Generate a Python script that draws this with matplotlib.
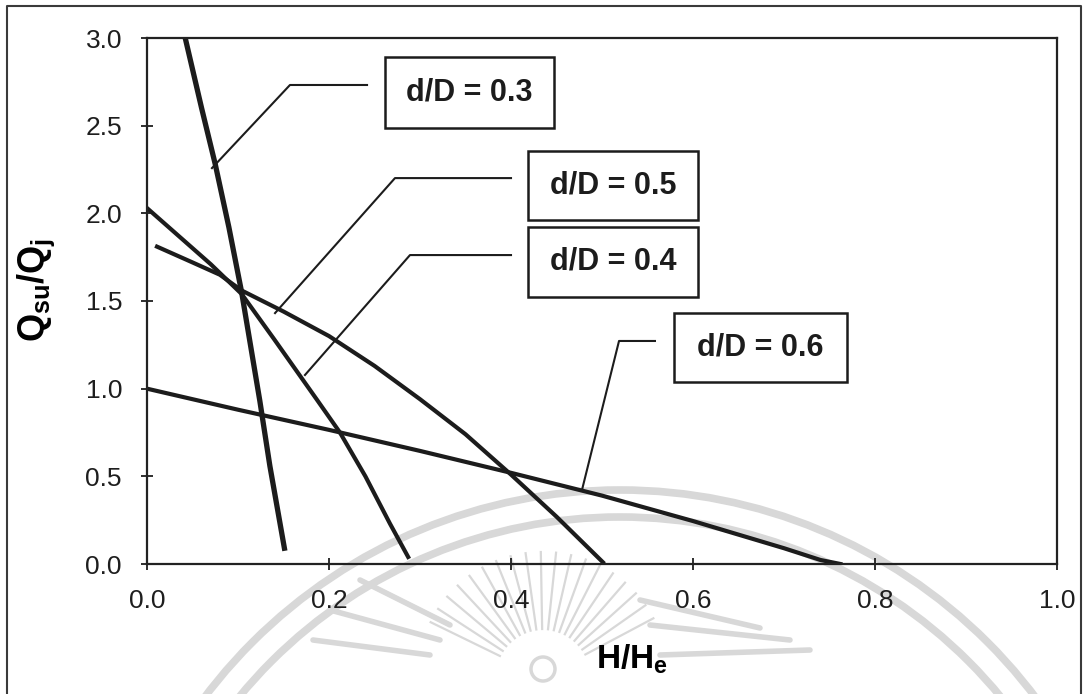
import numpy as np
import matplotlib
matplotlib.use("Agg")
import matplotlib.pyplot as plt
from matplotlib.patches import Rectangle, Circle

plt.rcParams['font.family'] = ['Liberation Sans', 'DejaVu Sans']
plt.rcParams['mathtext.fontset'] = 'custom'
plt.rcParams['mathtext.rm'] = 'Liberation Sans:bold'
plt.rcParams['mathtext.it'] = 'Liberation Sans:bold'
plt.rcParams['mathtext.bf'] = 'Liberation Sans:bold'

# H/He against Qsu/Qj for each d/D ratio
hh_03 = [0.042, 0.060, 0.075, 0.090, 0.104, 0.124, 0.135, 0.151]
q_03 = [3.00, 2.60, 2.28, 1.92, 1.55, 0.93, 0.56, 0.09]

hh_04 = [0.000, 0.035, 0.070, 0.104, 0.140, 0.187, 0.212, 0.240, 0.267, 0.287]
q_04 = [2.03, 1.87, 1.71, 1.54, 1.28, 0.935, 0.75, 0.50, 0.23, 0.04]

hh_05 = [0.011, 0.050, 0.080, 0.104, 0.150, 0.200, 0.250, 0.300, 0.350, 0.400, 0.450, 0.501]
q_05 = [1.81, 1.72, 1.65, 1.56, 1.44, 1.30, 1.13, 0.94, 0.74, 0.51, 0.27, 0.01]

hh_06 = [0.000, 0.100, 0.200, 0.300, 0.400, 0.500, 0.600, 0.700, 0.740, 0.762]
q_06 = [1.00, 0.88, 0.765, 0.645, 0.52, 0.39, 0.245, 0.09, 0.023, 0.0]

labels = ['d/D = 0.3', 'd/D = 0.4', 'd/D = 0.5', 'd/D = 0.6']

x_ticks = [0.0, 0.2, 0.4, 0.6, 0.8, 1.0]
y_ticks = [0.0, 0.5, 1.0, 1.5, 2.0, 2.5, 3.0]

fig = plt.figure(figsize=(10.85, 6.94), dpi=100)

# page layer: border and faint seal behind the chart
bg = fig.add_axes([0, 0, 1, 1], zorder=0)
bg.set_xlim(0, 1085)
bg.set_ylim(694, 0)
bg.axis('off')
seal = '#d8d8d8'
for r in (520, 493):
    bg.add_patch(Circle((620, 1010), r, fill=False, ec=seal, lw=5.5))
cx, cy = 543, 677
for a in np.arange(28, 156, 7):
    t = np.deg2rad(a)
    bg.plot([cx + 48 * np.cos(t), cx + 125 * np.cos(t)],
            [cy - 48 * np.sin(t), cy - 125 * np.sin(t)], color=seal, lw=1.6)
for y0, y1, x0, x1 in [(640, 655, 313, 430), (610, 640, 330, 440), (580, 625, 360, 450),
                       (655, 650, 660, 810), (625, 640, 650, 790), (600, 628, 640, 760)]:
    bg.plot([x0, x1], [y0, y1], color=seal, lw=4, solid_capstyle='round')
bg.add_patch(Circle((cx, cy - 8), 12, fill=False, ec=seal, lw=2.5))
bg.plot([7, 7, 1081, 1081], [694, 6, 6, 694], color='#3a3a3a', lw=1.5)

ax = fig.add_axes([147 / 1085, 1 - 564 / 694, 910 / 1085, 526 / 694], zorder=1)
ax.set_facecolor('none')

ink = '#1c1c1c'
ax.plot(hh_03, q_03, color=ink, lw=3.8, solid_joinstyle='round')
ax.plot(hh_04, q_04, color=ink, lw=3.0, solid_joinstyle='round')
ax.plot(hh_05, q_05, color=ink, lw=3.0, solid_joinstyle='round')
ax.plot(hh_06, q_06, color=ink, lw=3.0, solid_joinstyle='round')

ax.set_xlim(0, 1)
ax.set_ylim(0, 3)
ax.set_xticks(x_ticks)
ax.set_yticks(y_ticks)
ax.set_xticklabels([f'{v:.1f}' for v in x_ticks])
ax.set_yticklabels([f'{v:.1f}' for v in y_ticks])
ax.tick_params(direction='inout', length=8, width=1.3, labelsize=19, pad=14,
               colors='#1e1e1e')
for s in ax.spines.values():
    s.set_linewidth(1.6)
    s.set_color('#222222')

ax.set_xlabel(r'$H/H_e$', fontsize=24)
ax.xaxis.set_label_coords(0.533, -0.15)
ax.set_ylabel(r'$Q_{su}/Q_j$', fontsize=26)
ax.yaxis.set_label_coords(-0.099, 0.52)

# leader lines: curve point -> elbow -> box
leaders = [
    [(0.0714, 2.258), (0.1571, 2.732), (0.2418, 2.732)],
    [(0.1736, 1.078), (0.2890, 1.762), (0.4000, 1.762)],
    [(0.1407, 1.431), (0.2725, 2.201), (0.4000, 2.201)],
    [(0.4780, 0.422), (0.5187, 1.272), (0.5582, 1.272)],
]
# label boxes in axes fraction: x0, x1, y0, y1
boxes = [
    (0.2615, 0.4473, 0.8289, 0.9639),
    (0.4187, 0.6055, 0.5076, 0.6407),
    (0.4187, 0.6055, 0.6540, 0.7852),
    (0.5791, 0.7692, 0.3460, 0.4772),
]
for text, pts, (x0, x1, y0, y1) in zip(labels, leaders, boxes):
    xs, ys = zip(*pts)
    ax.plot(xs, ys, color=ink, lw=1.5)
    ax.add_patch(Rectangle((x0, y0), x1 - x0, y1 - y0, transform=ax.transAxes,
                           fill=True, fc='white', ec=ink, lw=1.8, zorder=3))
    ax.text((x0 + x1) / 2, (y0 + y1) / 2, text, transform=ax.transAxes,
            ha='center', va='center', fontsize=22, fontweight='bold',
            color=ink, zorder=4)

fig.savefig('out.png', dpi=100)
